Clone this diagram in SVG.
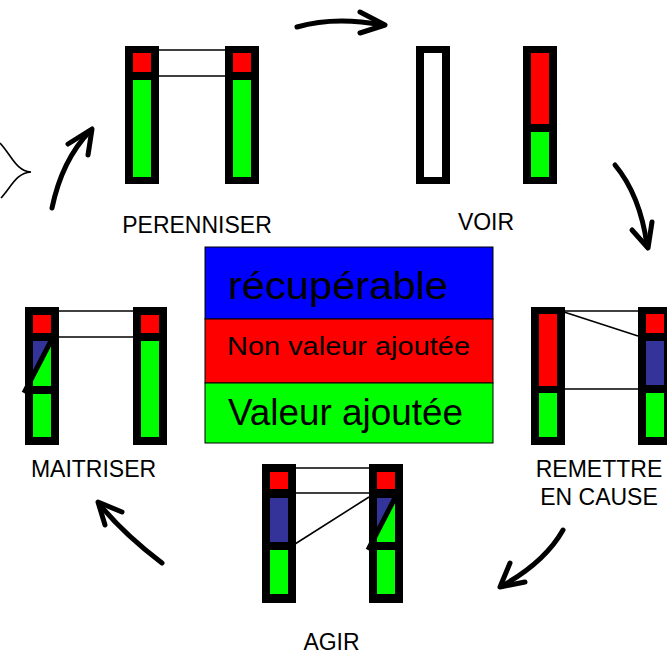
<svg xmlns="http://www.w3.org/2000/svg" width="667" height="656" viewBox="0 0 667 656">
<style>
.frame{fill:#000}
.r{fill:#FF0000}
.g{fill:#00FF00}
.b{fill:#333399}
.w{fill:#fff}
.link{stroke:#000;stroke-width:1.6;fill:none}
.diag{stroke:#000;stroke-width:5;fill:none}
.lbl{font-family:"Liberation Sans",Arial,sans-serif;font-size:23px;fill:#000;text-anchor:middle}
.leg{font-family:"Liberation Sans",Arial,sans-serif;fill:#000}
.arr{stroke:#000;stroke-width:5;fill:none;stroke-linecap:round;stroke-linejoin:round}
</style>
<rect width="667" height="656" fill="#fff"/>

<g id="perenniser">
  <line class="link" x1="159" y1="50" x2="225" y2="50"/>
  <line class="link" x1="159" y1="76" x2="225" y2="76"/>
  <rect class="frame" x="125" y="46" width="34" height="138"/>
  <rect class="r" x="133" y="53" width="18" height="19"/>
  <rect class="g" x="133" y="80" width="18" height="97"/>
  <rect class="frame" x="225" y="46" width="34" height="138"/>
  <rect class="r" x="233" y="53" width="18" height="19"/>
  <rect class="g" x="233" y="80" width="18" height="97"/>
  <text class="lbl" x="197" y="233">PERENNISER</text>
</g>

<g id="voir">
  <rect class="frame" x="416" y="46" width="34" height="138"/>
  <rect class="w" x="424" y="53" width="18" height="124"/>
  <rect class="frame" x="523" y="46" width="34" height="138"/>
  <rect class="r" x="531" y="53" width="18" height="71"/>
  <rect class="g" x="531" y="132" width="18" height="45"/>
  <text class="lbl" x="486" y="230">VOIR</text>
</g>

<g id="remettre">
  <line class="link" x1="564" y1="311" x2="638" y2="311"/>
  <line class="link" x1="564" y1="312" x2="638" y2="336"/>
  <line class="link" x1="564" y1="389" x2="638" y2="389"/>
  <rect class="frame" x="531" y="307" width="34" height="138"/>
  <rect class="r" x="539" y="314" width="18" height="72"/>
  <rect class="g" x="539" y="393" width="18" height="44"/>
  <rect class="frame" x="638" y="307" width="34" height="138"/>
  <rect class="r" x="646" y="314" width="18" height="19"/>
  <rect class="b" x="646" y="341" width="18" height="44"/>
  <rect class="g" x="646" y="393" width="18" height="44"/>
  <text class="lbl" x="599" y="477">REMETTRE</text>
  <text class="lbl" x="599" y="505">EN CAUSE</text>
</g>

<g id="agir">
  <line class="link" x1="295" y1="468" x2="369" y2="468"/>
  <line class="link" x1="295" y1="493" x2="369" y2="493"/>
  <line class="link" x1="295" y1="544" x2="369" y2="497"/>
  <rect class="frame" x="262" y="464" width="34" height="139"/>
  <rect class="r" x="270" y="472" width="18" height="17"/>
  <rect class="b" x="270" y="498" width="18" height="44"/>
  <rect class="g" x="270" y="550" width="18" height="44"/>
  <rect class="frame" x="369" y="464" width="34" height="139"/>
  <rect class="r" x="377" y="472" width="18" height="17"/>
  <rect class="g" x="377" y="498" width="18" height="44"/>
  <polygon class="b" points="377,498 394,498 377,530"/>
  <line class="diag" x1="397" y1="494" x2="368" y2="550"/>
  <rect class="g" x="377" y="550" width="18" height="44"/>
  <text class="lbl" x="331.5" y="650">AGIR</text>
</g>

<g id="maitriser">
  <line class="link" x1="59" y1="311" x2="133" y2="311"/>
  <line class="link" x1="59" y1="337" x2="133" y2="337"/>
  <rect class="frame" x="25" y="307" width="34" height="138"/>
  <rect class="r" x="33" y="315" width="18" height="18"/>
  <rect class="g" x="33" y="341" width="18" height="45"/>
  <polygon class="b" points="33,341 50,341 33,373"/>
  <line class="diag" x1="53" y1="337" x2="24" y2="393"/>
  <rect class="g" x="33" y="394" width="18" height="43"/>
  <rect class="frame" x="133" y="307" width="34" height="138"/>
  <rect class="r" x="141" y="315" width="18" height="18"/>
  <rect class="g" x="141" y="341" width="18" height="96"/>
  <text class="lbl" x="93.5" y="477">MAITRISER</text>
</g>

<g id="legend">
  <rect x="205" y="247" width="288" height="72" fill="#0000FF" stroke="#000" stroke-width="1"/>
  <rect x="205" y="319" width="288" height="64" fill="#FF0000" stroke="#000" stroke-width="1"/>
  <rect x="205" y="383" width="288" height="60" fill="#00FF00" stroke="#000" stroke-width="1"/>
  <text class="leg" x="228" y="299" font-size="38" textLength="220" lengthAdjust="spacingAndGlyphs">récupérable</text>
  <text class="leg" x="227" y="355" font-size="26" textLength="243" lengthAdjust="spacingAndGlyphs">Non valeur ajoutée</text>
  <text class="leg" x="228" y="425" font-size="37" textLength="235" lengthAdjust="spacingAndGlyphs">Valeur ajoutée</text>
</g>

<g id="bracket">
  <path d="M0,143 C12,156 16,171 31,172 C16,173 12,186 1,198" fill="none" stroke="#000" stroke-width="1.6"/>
</g>

<g id="connectors">
  <path class="arr" d="M52,208 Q62,160 90,131"/>
  <polyline class="arr" points="68,144 92,129 88,155"/>
  <path class="arr" d="M297,27 Q335,16 382,25"/>
  <polyline class="arr" points="360,12 385,25 360,33"/>
  <path class="arr" d="M615,165 Q640,195 647,245"/>
  <polyline class="arr" points="632,230 648,248 652,222"/>
  <path class="arr" d="M563,530 Q545,562 502,586"/>
  <polyline class="arr" points="510,563 500,587 525,582"/>
  <path class="arr" d="M162,563 Q125,535 100,505"/>
  <polyline class="arr" points="122,512 98,502 105,525"/>
</g>
</svg>
